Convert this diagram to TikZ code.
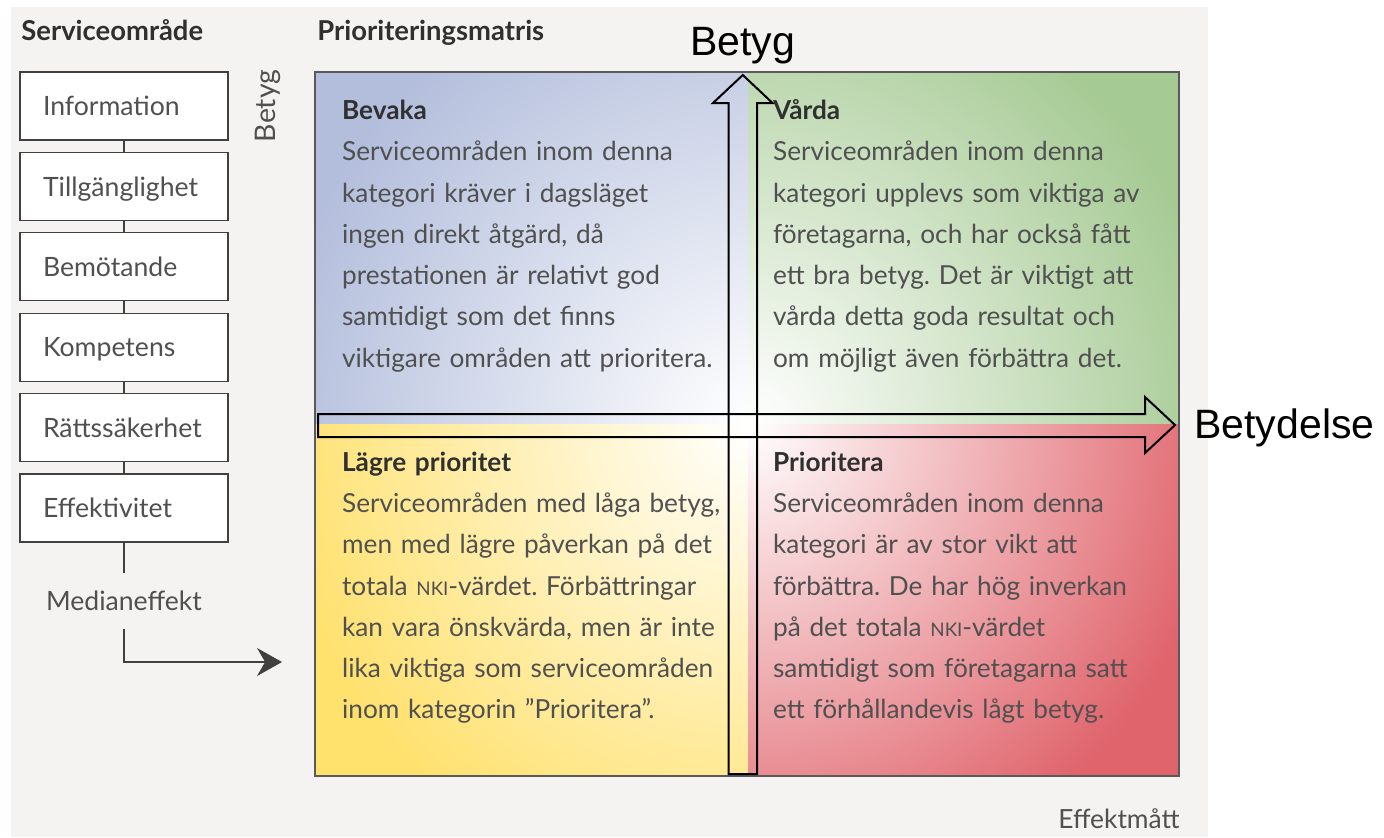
\documentclass[tikz,border=0pt]{standalone}
\usepackage{fontspec}
\setmainfont{Lato}
\newfontfamily\arialfont{Liberation Sans}
\usetikzlibrary{arrows.meta}
\frenchspacing

\definecolor{panelgray}{HTML}{F4F3F1}
\definecolor{framegray}{HTML}{5A5A5A}
\definecolor{boxgray}{HTML}{404040}
\definecolor{textgray}{HTML}{505050}
\definecolor{headgray}{HTML}{303030}
\definecolor{qblue}{HTML}{B3BEDC}
\definecolor{qgreen}{HTML}{A6CA94}
\definecolor{qyellow}{HTML}{FFE16E}
\definecolor{qred}{HTML}{E0646C}

\newcommand{\quadfont}{\fontsize{13.1}{20.65}\selectfont}
\newcommand{\boxfont}{\fontsize{13.3}{16}\selectfont}
\newcommand{\nki}{{\fontsize{9.4}{10}\selectfont NKI}}

\begin{document}
\begin{tikzpicture}[x=0.5pt,y=-0.5pt,
  area/.style={draw=boxgray, line width=0.6pt, fill=white, minimum height=34pt,
    text width=81pt, align=left, inner xsep=11.5pt, inner ysep=0pt,
    font=\boxfont, text=textgray, text height=9.7pt, text depth=0pt},
  quad/.style={anchor=north west, inner sep=0pt, text width=215pt, align=left,
    font=\quadfont, text=textgray},
  head/.style={anchor=base west, inner sep=0pt,
    font=\fontsize{13.7}{16}\selectfont\bfseries, text=headgray},
  bigarrow/.style={draw=black, line width=1pt, line join=miter},
  axislabel/.style={inner sep=0pt, font=\arialfont\fontsize{20.5}{24}\selectfont}]
\useasboundingbox (0,0) rectangle (1384,837);

%bakgrund
\fill[panelgray] (11,7) rectangle (1208,837);

\node[head] (shead) at (21,40) {Serviceområde};
\node[head] (phead) at (317,40) {Prioriteringsmatris};

%serviceomraden
\node[area] (info) at (124,106) {Information};
\node[area] (till) at (124,186.4) {Tillgänglighet};
\node[area] (bemo) at (124,266.8) {Bemötande};
\node[area] (komp) at (124,347.2) {Kompetens};
\node[area] (ratt) at (124,427.6) {Rättssäkerhet};
\node[area] (eff) at (124,508) {Effektivitet};
\node[inner xsep=0pt, inner ysep=9pt, text height=9.5pt, text depth=0pt,
  font=\fontsize{13.3}{14}\selectfont, text=textgray] (median) at (124,601.2) {Medianeffekt};
\coordinate (matin) at (282,662);

\draw[boxgray, line width=0.6pt] (info) -- (till) (till) -- (bemo) (bemo) -- (komp)
  (komp) -- (ratt) (ratt) -- (eff) (eff) -- (median);
\draw[boxgray, line width=0.6pt, -{Stealth[length=12.5pt,width=14pt]}] (median) |- (matin);

\node[rotate=90, inner sep=0pt, font=\fontsize{14.2}{16}\selectfont, text=textgray] (betygy) at (268,106) {Betyg};

%matris
\coordinate (mid) at (748,424);
\begin{scope}
\clip (315,72) rectangle (mid);
\fill[qblue] (315,72) rectangle (mid);
\shade[inner color=white, outer color=qblue] (mid) circle (480);
\end{scope}
\begin{scope}
\clip (1179,72) rectangle (mid);
\fill[qgreen] (1179,72) rectangle (mid);
\shade[inner color=white, outer color=qgreen] (mid) circle (480);
\end{scope}
\begin{scope}
\clip (315,776) rectangle (mid);
\fill[qyellow] (315,776) rectangle (mid);
\shade[inner color=white, outer color=qyellow] (mid) circle (480);
\end{scope}
\begin{scope}
\clip (1179,776) rectangle (mid);
\fill[qred] (1179,776) rectangle (mid);
\shade[inner color=white, outer color=qred] (mid) circle (480);
\end{scope}
\draw[framegray, line width=1pt] (315,72) rectangle (1179,776);

\node[quad] (bevaka) at (341.7,90.1) {\strut{\bfseries\color{headgray}Bevaka}\\
  Serviceområden inom denna\\
  kategori kräver i dagsläget\\
  ingen direkt åtgärd, då\\
  prestationen är relativt god\\
  samtidigt som det finns\\
  viktigare områden att prioritera.};
\node[quad] (varda) at (772.7,90.1) {\strut{\bfseries\color{headgray}Vårda}\\
  Serviceområden inom denna\\
  kategori upplevs som viktiga av\\
  företagarna, och har också fått\\
  ett bra betyg. Det är viktigt att\\
  vårda detta goda resultat och\\
  om möjligt även förbättra det.};
\node[quad] (lagre) at (341.7,441.8) {\strut{\bfseries\color{headgray}Lägre prioritet}\\
  Serviceområden med låga betyg,\\
  men med lägre påverkan på det\\
  totala \nki-värdet. Förbättringar\\
  kan vara önskvärda, men är inte\\
  lika viktiga som serviceområden\\
  inom kategorin ”Prioritera”.};
\node[quad] (prio) at (772.7,441.8) {\strut{\bfseries\color{headgray}Prioritera}\\
  Serviceområden inom denna\\
  kategori är av stor vikt att\\
  förbättra. De har hög inverkan\\
  på det totala \nki-värdet\\
  samtidigt som företagarna satt\\
  ett förhållandevis lågt betyg.};

\node[anchor=base east, inner sep=0pt, font=\fontsize{13.2}{14}\selectfont, text=textgray]
  (effekt) at (1180,828) {Effektmått};

%pilar
\draw[bigarrow] (728.5,774) -- (728.5,103) -- (713,103) -- (742.8,75)
  -- (772.5,103) -- (757,103) -- (757,774) -- cycle;
\draw[bigarrow] (318,414) -- (1145,414) -- (1145,397) -- (1175,425)
  -- (1145,453) -- (1145,437) -- (318,437) -- cycle;
\node[axislabel, anchor=base] (betyg) at (742.5,55) {Betyg};
\node[axislabel, anchor=base west] (betydelse) at (1194,438) {Betydelse};

\end{tikzpicture}
\end{document}
